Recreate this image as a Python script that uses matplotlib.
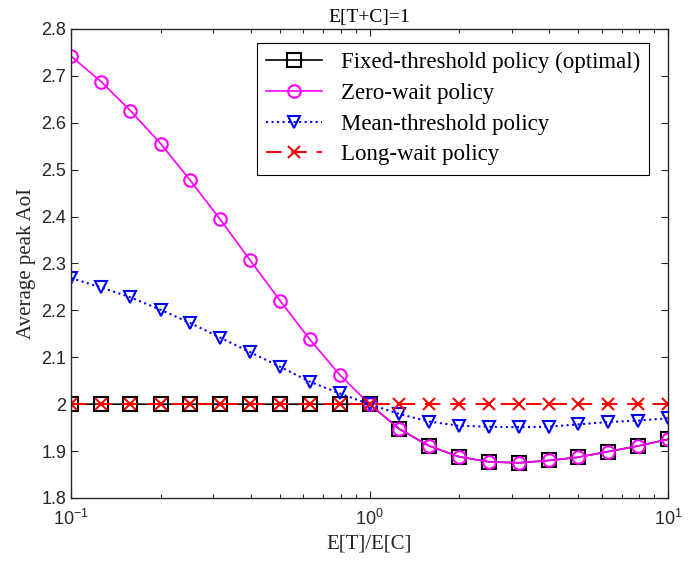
import matplotlib
matplotlib.use("Agg")
import matplotlib.pyplot as plt
from matplotlib.ticker import FixedLocator, LogLocator, NullFormatter
import numpy as np

# E[T]/E[C] sample points (log spaced, 10 per decade)
ratio = [0.1, 0.126, 0.158, 0.2, 0.251, 0.316, 0.398, 0.501, 0.631, 0.794, 1.0,
         1.259, 1.585, 1.995, 2.512, 3.162, 3.981, 5.012, 6.31, 7.943, 10.0]

# average peak AoI
fixed_thr = [2.0, 2.0, 2.0, 2.0, 2.0, 2.0, 2.0, 2.0, 2.0, 2.0, 2.0,
             1.947, 1.911, 1.888, 1.877, 1.875, 1.880, 1.887, 1.899, 1.911, 1.925]
zero_wait = [2.742, 2.688, 2.626, 2.555, 2.477, 2.394, 2.307, 2.221, 2.138, 2.063, 2.0,
             1.947, 1.911, 1.888, 1.877, 1.875, 1.880, 1.887, 1.899, 1.911, 1.925]
mean_thr = [2.269, 2.249, 2.228, 2.201, 2.173, 2.142, 2.111, 2.080, 2.048, 2.023, 2.0,
            1.979, 1.963, 1.954, 1.952, 1.951, 1.952, 1.957, 1.962, 1.965, 1.970]
long_wait = [2.0] * 21

labels = ["Fixed-threshold policy (optimal)", "Zero-wait policy",
          "Mean-threshold policy", "Long-wait policy"]

serif = "Liberation Serif"
sans = "Liberation Sans"
axcol = "#262626"

fig = plt.figure(figsize=(6.99, 5.67), dpi=100)
ax = fig.add_axes([0.1016, 0.1217, 0.8541, 0.8272])

ax.plot(ratio, fixed_thr, "-", color="k", lw=1.2, marker="s", ms=10,
        mfc="none", mec="k", mew=1.5, label=labels[0])
ax.plot(ratio, zero_wait, "-", color="#ff00ff", lw=1.2, marker="o", ms=9,
        mfc="none", mec="#ff00ff", mew=1.5, label=labels[1])
ax.plot(ratio, mean_thr, ":", color="#0000ff", lw=1.5, marker="v", ms=9,
        mfc="none", mec="#0000ff", mew=1.5, label=labels[2])
ax.plot(ratio, long_wait, color="#ff0000", lw=1.4, dashes=(8, 5), marker="x", ms=9,
        mec="#ff0000", mew=1.5, label=labels[3])

ax.set_xscale("log")
ax.set_xlim(0.1, 10)
ax.set_ylim(1.8, 2.8)

yt = np.round(np.arange(1.8, 2.801, 0.1), 1)
ax.yaxis.set_major_locator(FixedLocator(yt))
ax.set_yticklabels([("%g" % v) for v in yt], family=sans, fontsize=13, color=axcol)
ax.set_xticks([0.1, 1, 10])
ax.set_xticklabels([r"$\mathregular{10^{-1}}$", r"$\mathregular{10^{0}}$",
                    r"$\mathregular{10^{1}}$"], family=sans, fontsize=13, color=axcol)
ax.xaxis.set_minor_locator(LogLocator(base=10, subs=np.arange(2, 10)))
ax.xaxis.set_minor_formatter(NullFormatter())

ax.tick_params(which="both", direction="in", top=True, right=True, colors=axcol)
ax.tick_params(which="major", length=5, width=0.8)
ax.tick_params(which="minor", length=3, width=0.8)
ax.tick_params(axis="x", pad=8)
for s in ax.spines.values():
    s.set_color(axcol)
    s.set_linewidth(1.0)

ax.set_xlabel("E[T]/E[C]", family=serif, fontsize=15, color=axcol)
ax.set_ylabel("Average peak AoI", family=serif, fontsize=15, color=axcol)
ax.set_title("E[T+C]=1", family=serif, fontsize=14, pad=5)

leg = ax.legend(loc="upper right", bbox_to_anchor=(649 / 699, 1 - 43 / 567),
                bbox_transform=fig.transFigure,
                prop={"family": serif, "size": 16.5},
                handlelength=2.45, fancybox=False, framealpha=1,
                edgecolor="k", borderpad=0.4, labelspacing=0.42,
                handletextpad=0.8, borderaxespad=0)
leg.get_frame().set_linewidth(0.8)

fig.savefig("out.png", dpi=100)
